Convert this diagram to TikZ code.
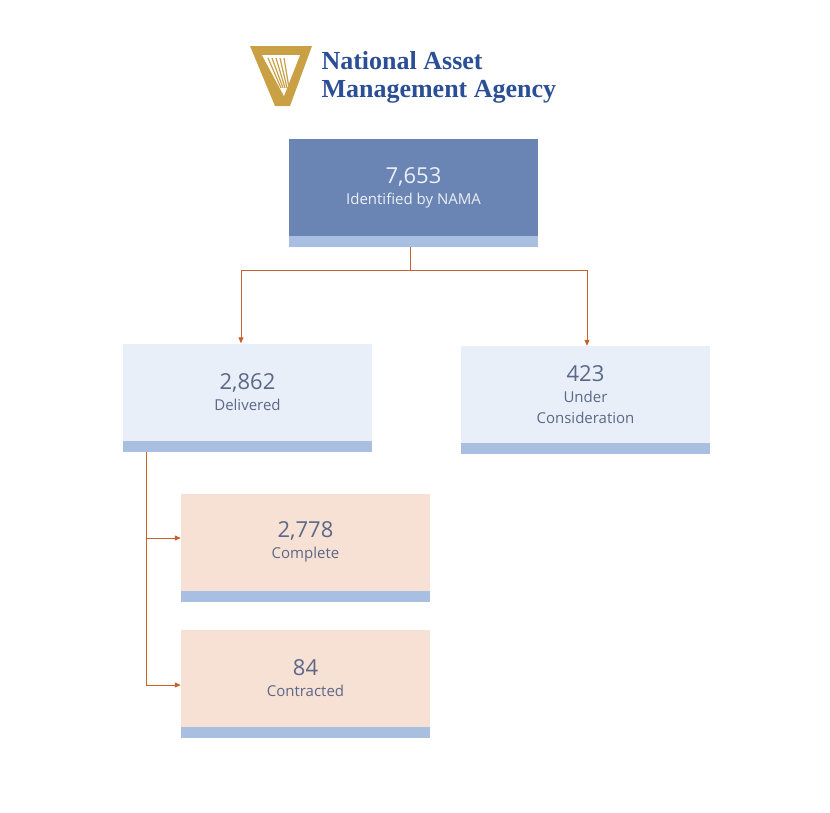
\documentclass[tikz,border=0pt]{standalone}
\usepackage{fontspec}
\setmainfont{Open Sans}
\newfontfamily\logofont{Liberation Serif}
\usetikzlibrary{arrows.meta}
\definecolor{navy}{HTML}{6A84B3}
\definecolor{paleblue}{HTML}{E9EFF8}
\definecolor{peach}{HTML}{F7E1D4}
\definecolor{stripe}{HTML}{A8BFE2}
\definecolor{linkc}{HTML}{C6622E}
\definecolor{txt}{HTML}{5B6888}
\definecolor{logoblue}{HTML}{2B4F96}
\definecolor{gold}{HTML}{C9A043}
\tikzset{
  box/.style={minimum width=249pt, minimum height=97pt, inner sep=0pt, align=center, text=txt, font=\fontsize{15}{21}\selectfont},
  link/.style={draw=linkc, line width=1pt, -{Triangle[length=6pt,width=5pt]}},
}
\newcommand{\strip}[1]{\fill[stripe] (#1.south west) rectangle ([yshift=-11pt]#1.south east);}
\begin{document}
\begin{tikzpicture}[x=1pt,y=-1pt]
  \useasboundingbox[fill=white] (0,0) rectangle (830,812);
  % logo
  \fill[gold] (250,46) -- (312,46) -- (290,106) -- (275,106) -- cycle;
  \fill[white] (262,55) -- (300,55) -- (284,96) -- cycle;
  \foreach \i in {0,...,4}
    \draw[gold, line width=1.2pt] (268+4*\i,58) -- (281+2*\i,88);
  \node[anchor=west, text=logoblue, font=\logofont\bfseries\fontsize{26}{28}\selectfont, align=left] (logo) at (318,77) {National Asset\\Management Agency};
  % boxes
  \node[box, fill=navy, text=white!88!navy] (nama) at (413.5,187.5) {{\fontsize{22}{26}\selectfont 7,653}\\Identified by NAMA};
  \node[box, fill=paleblue] (deliv) at (247.5,392) {{\fontsize{22}{26}\selectfont 2,862}\\Delivered};
  \node[box, fill=paleblue] (under) at (585.5,394.5) {{\fontsize{22}{26}\selectfont 423}\\Under\\Consideration};
  \node[box, fill=peach] (compl) at (305.5,542) {{\fontsize{22}{26}\selectfont 2,778}\\Complete};
  \node[box, fill=peach] (contr) at (305.5,678) {{\fontsize{22}{26}\selectfont 84}\\Contracted};
  \strip{nama} \strip{deliv} \strip{under} \strip{compl} \strip{contr}
  % connectors
  \coordinate (split) at (410,270);
  \coordinate (trunk) at (146,452);
  \draw[linkc, line width=1pt] ([yshift=-11pt]nama.south -| split) -- (split);
  \draw[link] (split) -| (deliv.north -| 241,0);
  \draw[link] (split) -| (under.north -| 587,0);
  \draw[linkc, line width=1pt] (trunk) -- (146,685);
  \draw[link] (146,538) -- (compl.west |- 0,538);
  \draw[link] (146,685) -- (contr.west |- 0,685);
\end{tikzpicture}
\end{document}
